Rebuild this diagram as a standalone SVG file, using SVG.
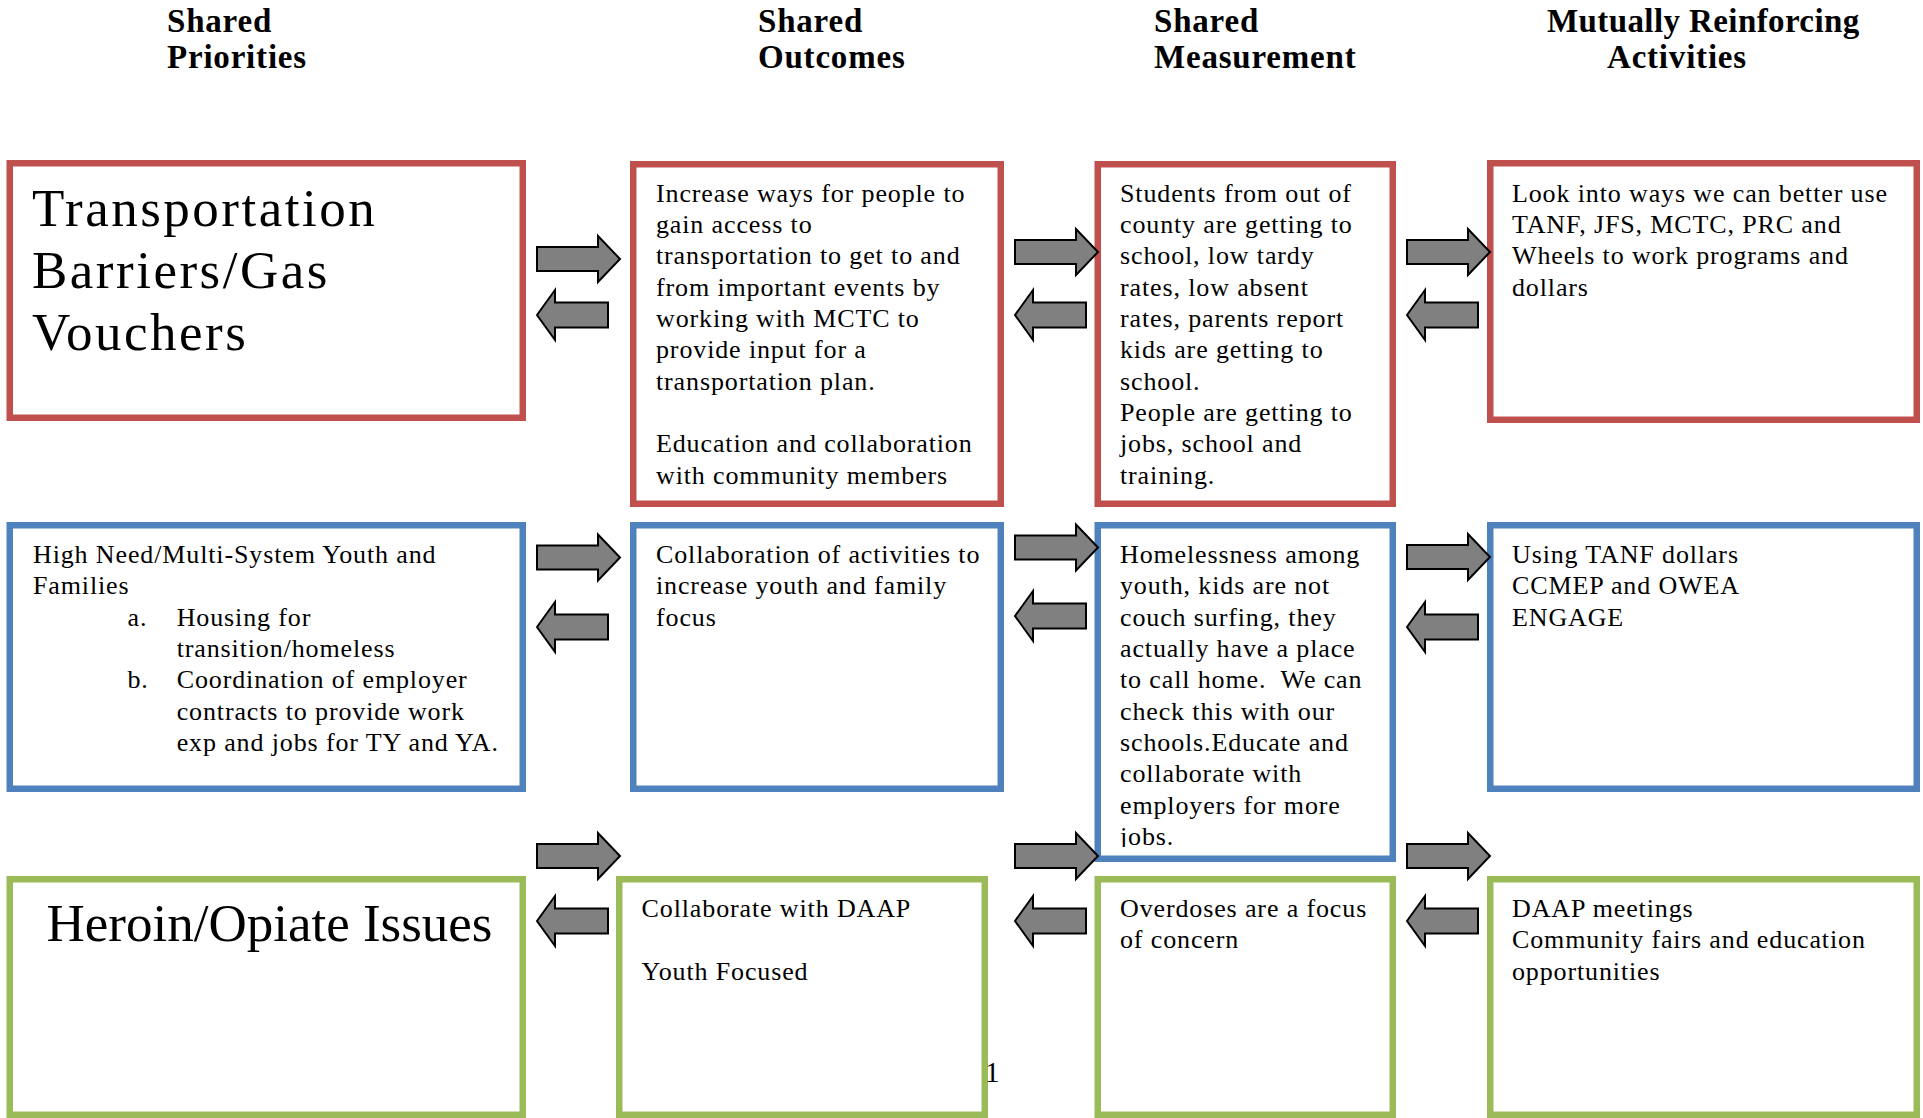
<svg xmlns="http://www.w3.org/2000/svg" width="1923" height="1118" viewBox="0 0 1923 1118">
<style>
  .hdr { font-family: "Liberation Serif", "Times New Roman", serif; font-weight: bold; font-size: 33px; letter-spacing: 0.8px; fill: #000; }
  .txt { font-family: "Liberation Serif", "Times New Roman", serif; font-size: 26px; letter-spacing: 0.87px; fill: #000; }
  .big { font-family: "Liberation Serif", "Times New Roman", serif; font-size: 53px; letter-spacing: 2.5px; fill: #000; }
  .big2 { font-family: "Liberation Serif", "Times New Roman", serif; font-size: 53px; fill: #000; }
  .pg { font-family: "Liberation Serif", "Times New Roman", serif; font-size: 29px; fill: #000; }
  .box { fill: #fff; stroke-width: 6.5; }
  .red { stroke: #C0504D; }
  .blue { stroke: #4F81BD; }
  .green { stroke: #9BBB59; }
  .arrow { fill: #808080; stroke: #000; stroke-width: 2; stroke-linejoin: miter; }
</style>
<defs>
  <path id="arrR" d="M0,-12 H61 V-23 L83,0 L61,23 V12 H0 Z"/>
  <path id="arrL" d="M0,0 L18,-25 V-12.5 H71 V12.5 H18 V25 Z"/>
  <clipPath id="clipM2"><rect x="1095" y="522" width="300" height="325"/></clipPath>
</defs>
<rect width="1923" height="1118" fill="#fff"/>

<g id="headers">
  <text class="hdr" x="167" y="31.7">Shared</text>
  <text class="hdr" x="167" y="68.3">Priorities</text>
  <text class="hdr" x="758" y="31.7">Shared</text>
  <text class="hdr" x="758" y="68.3">Outcomes</text>
  <text class="hdr" x="1154" y="31.7">Shared</text>
  <text class="hdr" x="1154" y="68.3">Measurement</text>
  <text class="hdr" x="1547" y="31.7" style="letter-spacing:0.4px">Mutually Reinforcing</text>
  <text class="hdr" x="1607" y="68.3">Activities</text>
</g>

<g id="p1">
  <rect class="box red" x="9.75" y="163.25" width="513" height="254.5"/>
  <text class="big" x="32" y="226">Transportation</text>
  <text class="big" x="32" y="287.5">Barriers/Gas</text>
  <text class="big" x="32" y="350">Vouchers</text>
</g>
<g id="o1">
  <rect class="box red" x="633.25" y="164.25" width="367.5" height="339.5"/>
  <text class="txt" x="656" y="201.5">Increase ways for people to</text>
  <text class="txt" x="656" y="232.9">gain access to</text>
  <text class="txt" x="656" y="264.2">transportation to get to and</text>
  <text class="txt" x="656" y="295.6">from important events by</text>
  <text class="txt" x="656" y="326.9">working with MCTC to</text>
  <text class="txt" x="656" y="358.3">provide input for a</text>
  <text class="txt" x="656" y="389.6">transportation plan.</text>
  <text class="txt" x="656" y="452.3">Education and collaboration</text>
  <text class="txt" x="656" y="483.7">with community members</text>
</g>
<g id="m1">
  <rect class="box red" x="1097.75" y="164.25" width="295" height="339.5"/>
  <text class="txt" x="1120" y="201.5">Students from out of</text>
  <text class="txt" x="1120" y="232.9">county are getting to</text>
  <text class="txt" x="1120" y="264.2">school, low tardy</text>
  <text class="txt" x="1120" y="295.6">rates, low absent</text>
  <text class="txt" x="1120" y="326.9">rates, parents report</text>
  <text class="txt" x="1120" y="358.3">kids are getting to</text>
  <text class="txt" x="1120" y="389.6">school.</text>
  <text class="txt" x="1120" y="421">People are getting to</text>
  <text class="txt" x="1120" y="452.3">jobs, school and</text>
  <text class="txt" x="1120" y="483.7">training.</text>
</g>
<g id="a1">
  <rect class="box red" x="1490.25" y="163.25" width="426.5" height="256.5"/>
  <text class="txt" x="1512" y="201.5">Look into ways we can better use</text>
  <text class="txt" x="1512" y="232.9">TANF, JFS, MCTC, PRC and</text>
  <text class="txt" x="1512" y="264.2">Wheels to work programs and</text>
  <text class="txt" x="1512" y="295.6">dollars</text>
</g>

<g id="p2">
  <rect class="box blue" x="9.75" y="525.25" width="513" height="263.5"/>
  <text class="txt" x="33" y="563">High Need/Multi-System Youth and</text>
  <text class="txt" x="33" y="594.4">Families</text>
  <text class="txt" x="127.5" y="625.7">a.</text>
  <text class="txt" x="176.7" y="625.7">Housing for</text>
  <text class="txt" x="176.7" y="657">transition/homeless</text>
  <text class="txt" x="127.5" y="688.4">b.</text>
  <text class="txt" x="176.7" y="688.4">Coordination of employer</text>
  <text class="txt" x="176.7" y="719.7">contracts to provide work</text>
  <text class="txt" x="176.7" y="751">exp and jobs for TY and YA.</text>
</g>
<g id="o2">
  <rect class="box blue" x="633.25" y="525.25" width="367.5" height="263.5"/>
  <text class="txt" x="656" y="563">Collaboration of activities to</text>
  <text class="txt" x="656" y="594.4">increase youth and family</text>
  <text class="txt" x="656" y="625.7">focus</text>
</g>
<g id="m2">
  <rect class="box blue" x="1097.75" y="525.25" width="295" height="333.5"/>
  <g clip-path="url(#clipM2)">
    <text class="txt" x="1120" y="563">Homelessness among</text>
    <text class="txt" x="1120" y="594.4">youth, kids are not</text>
    <text class="txt" x="1120" y="625.7">couch surfing, they</text>
    <text class="txt" x="1120" y="657">actually have a place</text>
    <text class="txt" x="1120" y="688.4">to call home.&#160; We can</text>
    <text class="txt" x="1120" y="719.7">check this with our</text>
    <text class="txt" x="1120" y="751">schools.Educate and</text>
    <text class="txt" x="1120" y="782.4">collaborate with</text>
    <text class="txt" x="1120" y="813.7">employers for more</text>
    <text class="txt" x="1120" y="845">jobs.</text>
  </g>
</g>
<g id="a2">
  <rect class="box blue" x="1490.25" y="525.25" width="426.5" height="263.5"/>
  <text class="txt" x="1512" y="563">Using TANF dollars</text>
  <text class="txt" x="1512" y="594.4">CCMEP and OWEA</text>
  <text class="txt" x="1512" y="625.7">ENGAGE</text>
</g>

<g id="p3">
  <rect class="box green" x="9.75" y="879.25" width="513" height="235.5"/>
  <text class="big2" x="46.5" y="940.7">Heroin/Opiate Issues</text>
</g>
<g id="o3">
  <rect class="box green" x="619.25" y="879.25" width="365.5" height="235.5"/>
  <text class="txt" x="641.6" y="917">Collaborate with DAAP</text>
  <text class="txt" x="641.6" y="979.7">Youth Focused</text>
</g>
<g id="m3">
  <rect class="box green" x="1097.75" y="879.25" width="295" height="235.5"/>
  <text class="txt" x="1120" y="917">Overdoses are a focus</text>
  <text class="txt" x="1120" y="948.4">of concern</text>
</g>
<g id="a3">
  <rect class="box green" x="1490.25" y="879.25" width="426.5" height="235.5"/>
  <text class="txt" x="1512" y="917">DAAP meetings</text>
  <text class="txt" x="1512" y="948.4">Community fairs and education</text>
  <text class="txt" x="1512" y="979.7">opportunities</text>
</g>

<g id="pagenum">
  <text class="pg" x="985" y="1082">1</text>
</g>

<g id="connectors">
  <use href="#arrR" class="arrow" x="537" y="259"/>
  <use href="#arrL" class="arrow" x="537" y="315"/>
  <use href="#arrR" class="arrow" x="537" y="557.5"/>
  <use href="#arrL" class="arrow" x="537" y="627"/>
  <use href="#arrR" class="arrow" x="537" y="856"/>
  <use href="#arrL" class="arrow" x="537" y="921"/>

  <use href="#arrR" class="arrow" x="1015" y="252"/>
  <use href="#arrL" class="arrow" x="1015" y="315"/>
  <use href="#arrR" class="arrow" x="1015" y="547.5"/>
  <use href="#arrL" class="arrow" x="1015" y="616"/>
  <use href="#arrR" class="arrow" x="1015" y="856"/>
  <use href="#arrL" class="arrow" x="1015" y="921"/>

  <use href="#arrR" class="arrow" x="1407" y="252"/>
  <use href="#arrL" class="arrow" x="1407" y="315"/>
  <use href="#arrR" class="arrow" x="1407" y="557"/>
  <use href="#arrL" class="arrow" x="1407" y="627"/>
  <use href="#arrR" class="arrow" x="1407" y="856"/>
  <use href="#arrL" class="arrow" x="1407" y="921"/>
</g>
</svg>
